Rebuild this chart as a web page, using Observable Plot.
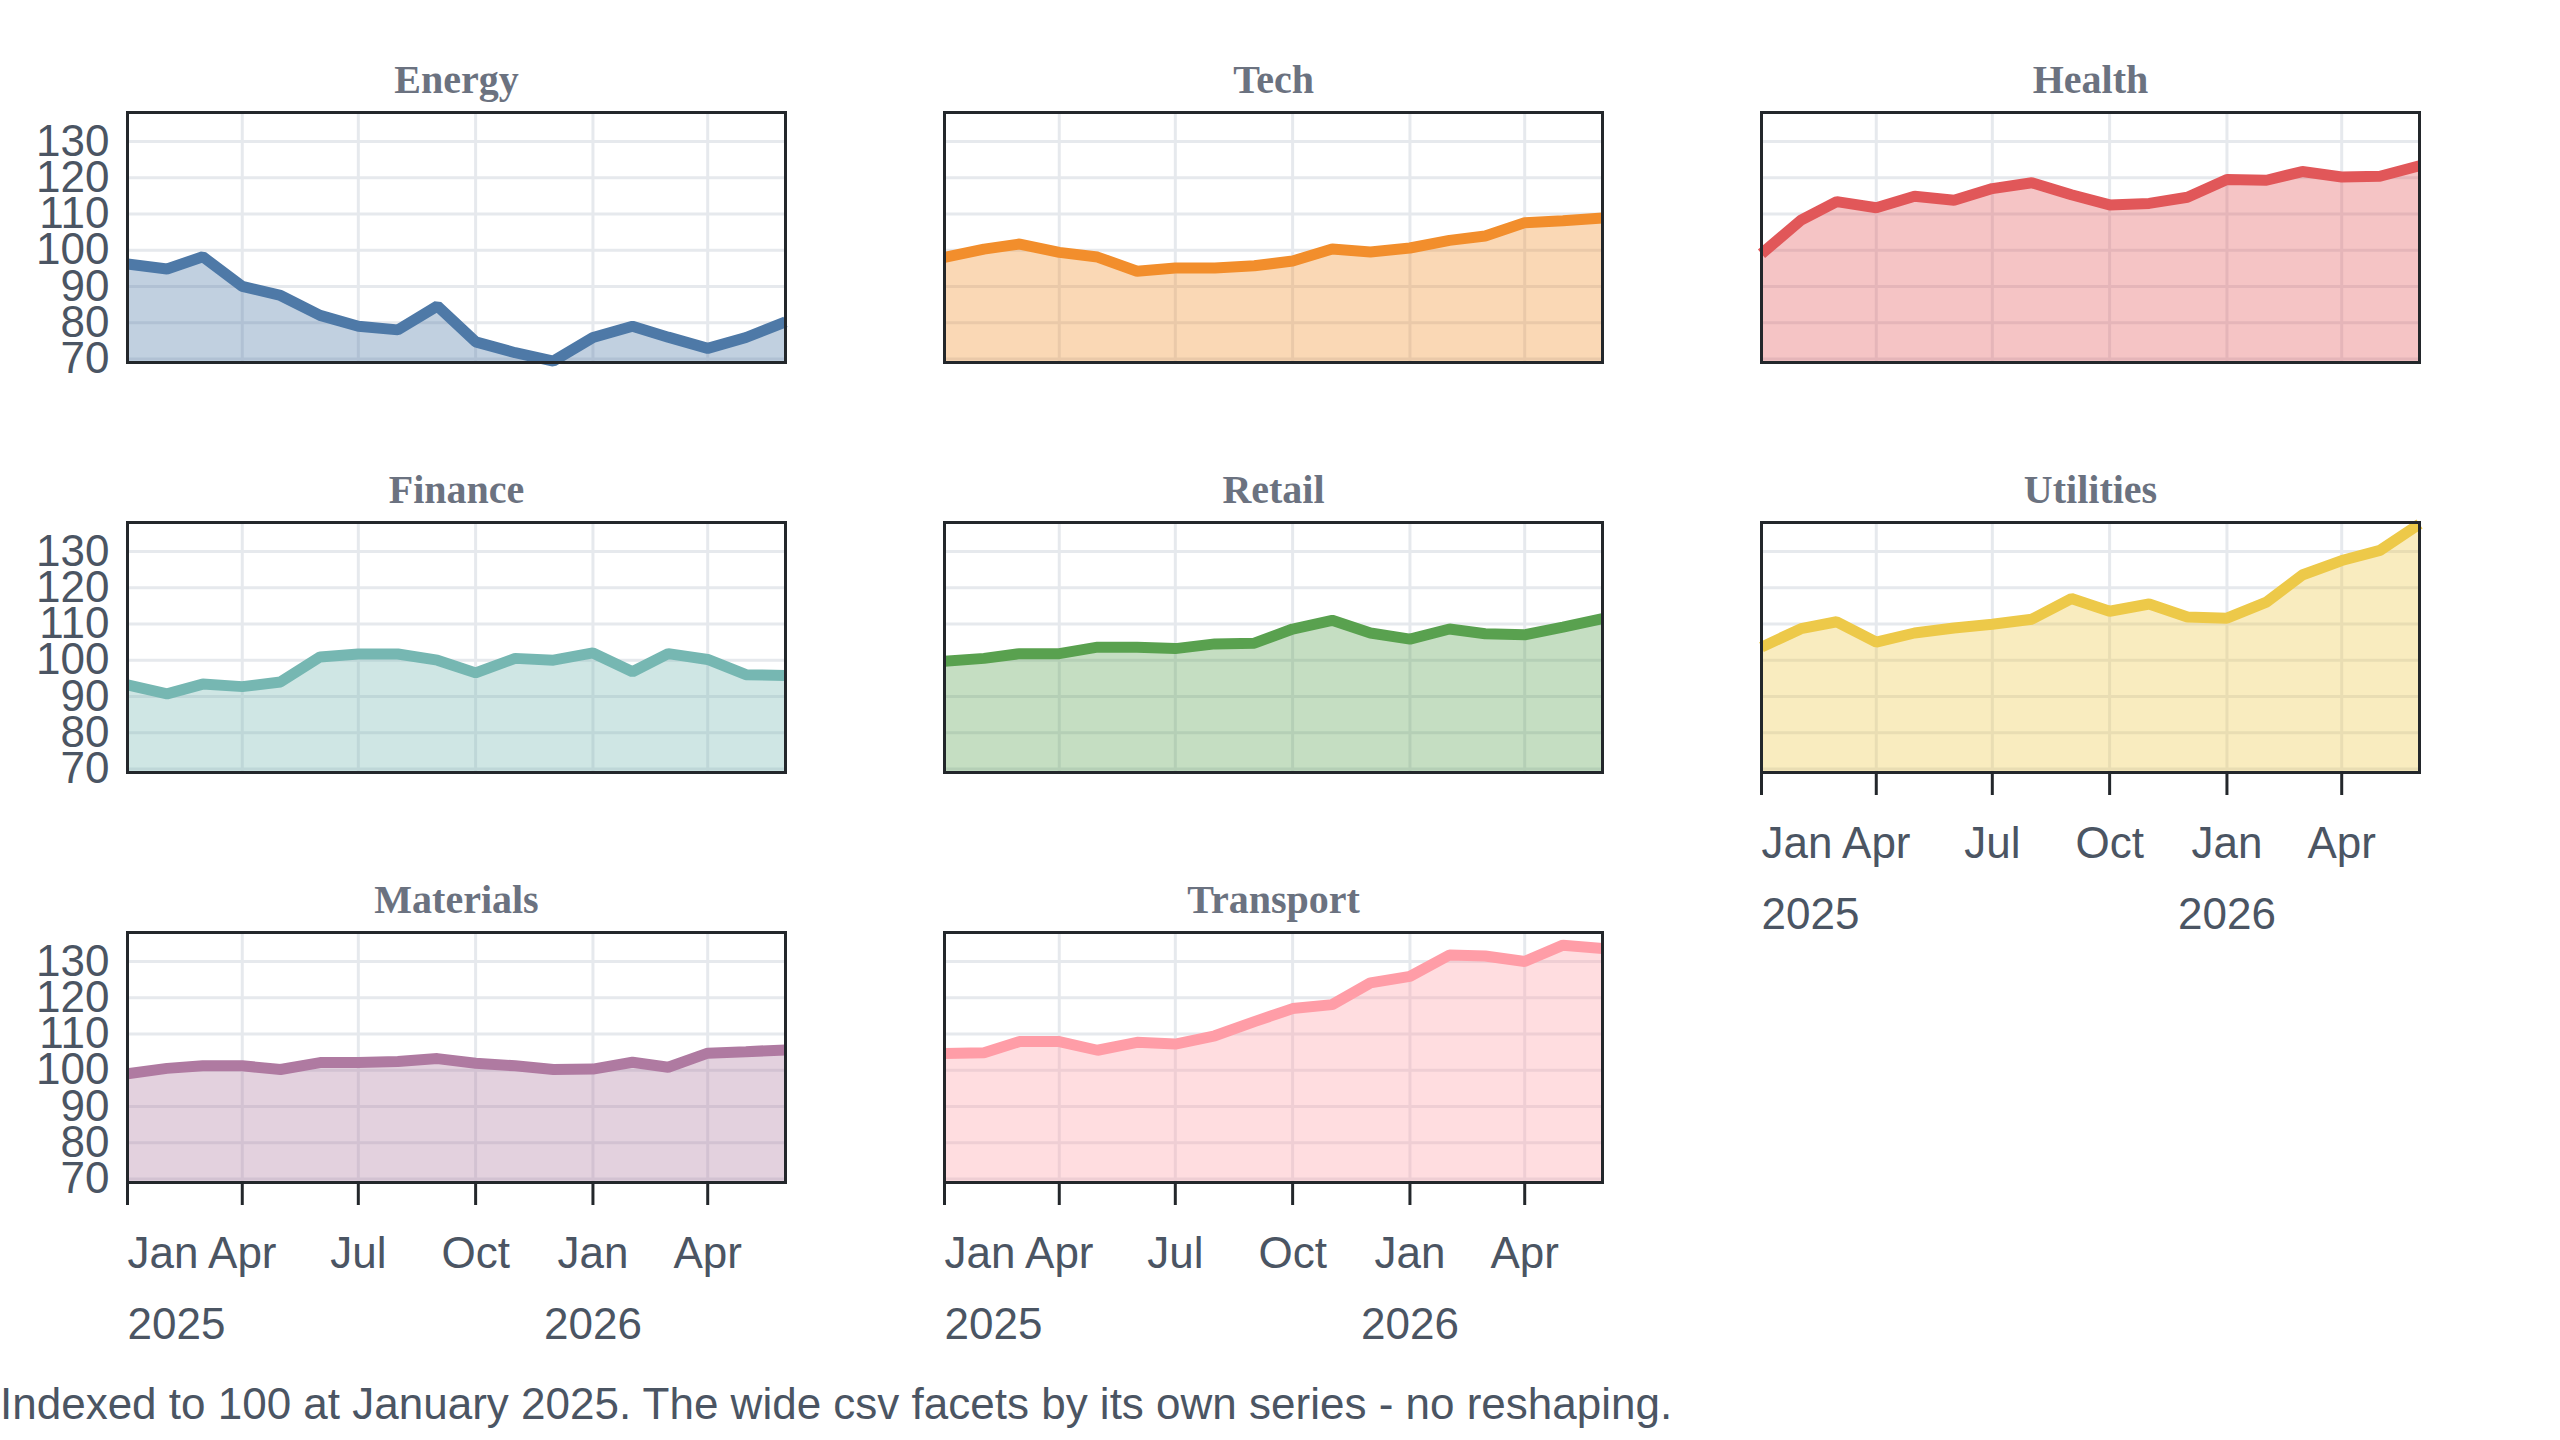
<!DOCTYPE html>
<html>
<head>
<meta charset="utf-8">
<script src="https://cdn.jsdelivr.net/npm/d3@7"></script>
<script src="https://cdn.jsdelivr.net/npm/@observablehq/plot@0.6"></script>
<style>
  html, body { margin: 0; padding: 0; background: #fff; }
  figure { margin: 0; }
  figcaption { font-family: "Liberation Sans", Arial, sans-serif; font-size: 44px; color: #4b5563; line-height: normal; }
</style>
</head>
<body>
<div id="chart"></div>
<script>
const series = ["Energy", "Tech", "Health", "Finance", "Retail", "Utilities", "Materials", "Transport"];
const months = ["2025-01","2025-02","2025-03","2025-04","2025-05","2025-06","2025-07","2025-08","2025-09",
                "2025-10","2025-11","2025-12","2026-01","2026-02","2026-03","2026-04","2026-05","2026-06"];
const energy    = [96.2, 94.8, 98.2, 90.0, 87.5, 82.0, 79.0, 78.0, 84.6, 74.7, 71.7, 69.4, 75.9, 79.0, 76.0, 72.9, 75.9, 80.2];
const tech      = [98.0, 100.3, 101.7, 99.4, 98.1, 94.2, 95.1, 95.1, 95.7, 97.0, 100.3, 99.5, 100.6, 102.7, 103.9, 107.6, 108.1, 108.9];
const health    = [99.0, 108.3, 113.4, 111.7, 114.9, 113.8, 117.0, 118.6, 115.3, 112.5, 112.9, 114.6, 119.5, 119.3, 121.7, 120.2, 120.4, 123.3];
const finance   = [93.2, 90.7, 93.4, 92.7, 94.0, 100.9, 101.7, 101.7, 100.0, 96.5, 100.5, 100.0, 102.0, 96.8, 101.8, 100.2, 96.0, 95.8];
const retail    = [99.7, 100.5, 101.8, 101.8, 103.6, 103.6, 103.2, 104.5, 104.7, 108.6, 111.0, 107.5, 105.8, 108.6, 107.3, 107.0, 109.1, 111.5];
const utilities = [103.6, 108.7, 110.6, 105.0, 107.5, 108.9, 109.9, 111.3, 117.0, 113.5, 115.5, 111.9, 111.6, 116.0, 123.5, 127.5, 130.3, 137.6];
const materials = [99.0, 100.5, 101.2, 101.2, 100.2, 102.1, 102.1, 102.4, 103.2, 101.9, 101.2, 100.2, 100.3, 102.2, 100.8, 104.7, 105.1, 105.6];
const transport = [104.6, 104.8, 107.9, 107.9, 105.5, 107.7, 107.2, 109.5, 113.4, 117.0, 118.1, 124.1, 125.9, 131.8, 131.5, 130.0, 134.5, 133.6];
const yTicks = [70, 80, 90, 100, 110, 120, 130];
const xTicks = ["2025-01", "2025-04", "2025-07", "2025-10", "2026-01", "2026-04"];
const captionText = "Indexed to 100 at January 2025. The wide csv facets by its own series - no reshaping.";

const parse = d3.utcParse("%Y-%m");
const valuesBySeries = [energy, tech, health, finance, retail, utilities, materials, transport];
const dates = months.map(parse);
const tickDates = xTicks.map(parse);

const rows = series.flatMap((s, i) => dates.map((d, j) => ({
  series: s, date: d, value: valuesBySeries[i][j], col: i % 3, row: Math.floor(i / 3)
})));
const titles = series.map((s, i) => ({series: s, col: i % 3, row: Math.floor(i / 3)}));
const all = rows.map(d => d.value);
const yMin = Math.floor(d3.min(all));
const yMax = Math.ceil(d3.max(all));

const fmt = d => {
  const name = d3.utcFormat("%b")(d);
  return d.getUTCMonth() === 0 ? name + "\n" + d.getUTCFullYear() : name;
};

const ink = "#23272b";
const textColor = "#4b5563";
const gridColor = "#e6e9ed";

const chart = Plot.plot({
  width: 2560,
  height: 1379,
  marginLeft: 126,
  marginRight: 140,
  marginTop: 111.5,
  marginBottom: 197,
  style: {fontFamily: "'Liberation Sans', Arial, sans-serif", fontSize: "44px", color: textColor, background: "#fff", overflow: "visible"},
  fx: {domain: [0, 1, 2], paddingInner: 0.195, paddingOuter: 0, axis: null},
  fy: {domain: [0, 1, 2], paddingInner: 0.39, paddingOuter: 0, axis: null},
  x: {type: "utc", domain: d3.extent(dates), label: null},
  y: {domain: [yMin, yMax], label: null},
  color: {domain: series, scheme: "tableau10"},
  caption: captionText,
  marks: [
    Plot.gridY(yTicks, {stroke: gridColor, strokeOpacity: 1, strokeWidth: 3}),
    Plot.gridX(tickDates, {stroke: gridColor, strokeOpacity: 1, strokeWidth: 3}),
    Plot.areaY(rows, {x: "date", y1: yMin, y2: "value", fx: "col", fy: "row", fill: "series", fillOpacity: 0.35}),
    Plot.lineY(rows, {x: "date", y: "value", fx: "col", fy: "row", stroke: "series", strokeWidth: 11,
      strokeLinecap: "butt", strokeLinejoin: "miter"}),
    Plot.frame({stroke: ink, strokeWidth: 3}),
    Plot.text(titles, {fx: "col", fy: "row", text: "series", frameAnchor: "top", lineAnchor: "bottom", dy: -20,
      fontFamily: "'Liberation Serif', 'Times New Roman', serif", fontWeight: "bold", fontSize: 40, fill: "#6b7280"}),
    Plot.axisY(yTicks, {tickSize: 0, tickPadding: 18, fontSize: 44, fill: textColor, label: null}),
    Plot.axisX(tickDates, {tickSize: 23, text: null, stroke: ink, strokeWidth: 3, label: null}),
    Plot.axisX(tickDates.slice(0, 1), {tickSize: 0, tickPadding: 35, textAnchor: "start", tickFormat: fmt, lineHeight: 1.61, fontSize: 44, fill: textColor, label: null}),
    Plot.axisX(tickDates.slice(1), {tickSize: 0, tickPadding: 35, tickFormat: fmt, lineHeight: 1.61, fontSize: 44, fill: textColor, label: null})
  ]
});
document.getElementById("chart").appendChild(chart);
</script>
</body>
</html>
